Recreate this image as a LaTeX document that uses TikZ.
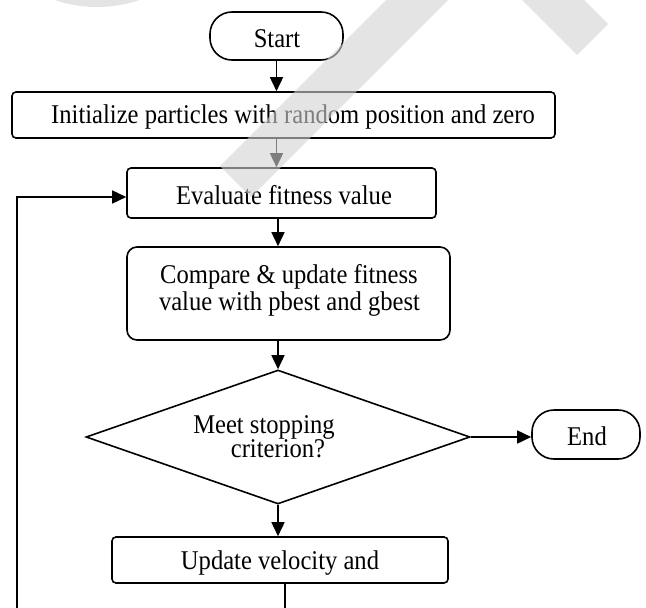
\documentclass[tikz,border=0pt]{standalone}
\usepackage{fontspec}
\setmainfont{Liberation Serif}
\usetikzlibrary{arrows.meta,shapes.geometric,calc}
\definecolor{wmgray}{RGB}{210,210,210}
\newcommand{\vt}[1]{\scalebox{1}[1.1]{#1}}
\begin{document}
\begin{tikzpicture}[x=1pt,y=-1pt,line width=1.6pt,
  txt/.style={font=\fontsize{24.6}{27}\selectfont, inner sep=0pt},
  procbox/.style={draw, rounded corners=4pt, inner sep=0pt, font=\fontsize{24.6}{27}\selectfont},
  termbox/.style={draw, rounded corners=22pt, inner sep=0pt, font=\fontsize{24.6}{27}\selectfont},
  arr/.style={-{Triangle[length=14pt,width=13pt]}},
  wm/.style={fill=wmgray, opacity=0.6, draw=none}
]
\useasboundingbox (0,0) rectangle (646,608);
% nodes
\node[termbox, minimum width=133pt, minimum height=48pt] (start) at (276.5,36) {};
\node[txt] (startt) at (277,39) {\vt{Start}};
\node[procbox, minimum width=543pt, minimum height=46pt] (init) at (283.5,115) {};
\node[txt] (initt) at (293,117) {\vt{Initialize particles with random position and zero}};
\node[procbox, minimum width=309pt, minimum height=50pt] (eval) at (281.5,193) {};
\node[txt] (evalt) at (284,195) {\vt{Evaluate fitness value}};
\node[procbox, rounded corners=10pt, minimum width=323pt, minimum height=93pt] (comp) at (288.5,293.5) {};
\node[txt] (compa) at (289,277) {\vt{Compare \& update fitness}};
\node[txt] (compb) at (289.5,304) {\vt{value with pbest and gbest}};
\node[draw, diamond, inner sep=0pt, minimum width=384pt, minimum height=134pt] (dec) at (278,437) {};
\node[txt] (deca) at (264,427) {\vt{Meet stopping}};
\node[txt] (decb) at (278,449) {\vt{criterion?}};
\node[termbox, minimum width=108pt, minimum height=49pt] (end) at (586,434.5) {};
\node[txt] (endt) at (587,436) {\vt{End}};
\node[procbox, minimum width=336pt, minimum height=46pt] (upd) at (280,560) {};
\node[txt] (updt) at (280,563) {\vt{Update velocity and}};
\coordinate (b1) at (285,610);
\coordinate (l1) at (17,610);
\coordinate (lt) at (17,197);
% connectors
\draw[arr] (start.south) -- (start.south |- init.north);
\draw[arr] (init.south -| start.south) -- (eval.north -| start.south);
\draw[arr] (eval.south -| dec.north) -- (comp.north -| dec.north);
\draw[arr] (comp.south -| dec.north) -- (dec.north);
\draw[arr] (dec.east) -- (dec.east -| end.west);
\draw[arr] (dec.south) -- (upd.north -| dec.south);
\draw (b1 |- upd.south) -- (b1);
\draw[arr] (l1) -- (lt) -- (lt -| eval.west);
% watermark
\fill[wm] (220,166) -- (251,197) -- (470,-22) -- (408,-22) -- cycle;
\fill[wm] (577,55) -- (608,24) -- (562,-22) -- (500,-22) -- cycle;
\fill[wm] (97,-125) circle (132);
\end{tikzpicture}
\end{document}
